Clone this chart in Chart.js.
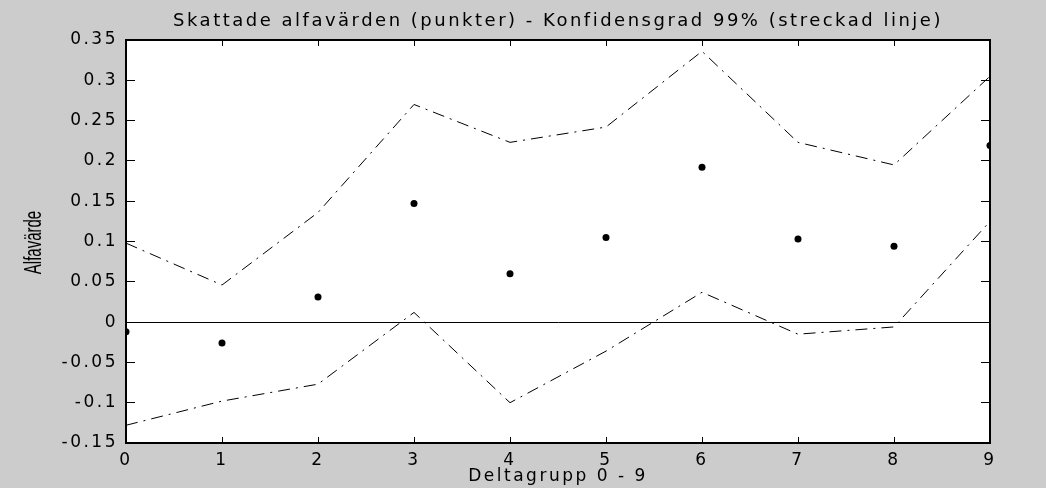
<!DOCTYPE html>
<html lang="sv">
<head>
<meta charset="utf-8">
<title>Skattade alfavärden</title>
<script src="https://cdn.jsdelivr.net/npm/chart.js@4/dist/chart.umd.min.js"></script>
<style>
    html, body { margin: 0; padding: 0; background: #cccccc; }
    #ruta { position: relative; width: 1046px; height: 488px; }
</style>
</head>
<body>
<div id="ruta"><canvas id="grafik"></canvas></div>
<script>
// Deltagrupper och skattade värden
const grupper = [0, 1, 2, 3, 4, 5, 6, 7, 8, 9];
const alfa = [-0.012, -0.026, 0.031, 0.147, 0.060, 0.105, 0.192, 0.103, 0.094, 0.219];
// Konfidensintervall 99 %
const ovreGrans = [0.098, 0.046, 0.136, 0.270, 0.223, 0.242, 0.336, 0.223, 0.195, 0.305];
const undreGrans = [-0.128, -0.098, -0.077, 0.012, -0.100, -0.036, 0.037, -0.015, -0.006, 0.125];
// Axlar
const yMin = -0.15, yMax = 0.35, yStep = 0.05;
const xMin = 0, xMax = 9;

const titel = 'Skattade alfavärden (punkter) - Konfidensgrad 99% (streckad linje)';
const xTitel = 'Deltagrupp 0 - 9';
const yTitel = 'Alfavärde';

const punkter = (ys) => grupper.map((g, i) => ({ x: g, y: ys[i] }));

// bredare text, som i MATLAB-figuren
const textSpacing = {
    id: 'textSpacing',
    beforeUpdate(chart) { chart.ctx.letterSpacing = '2.5px'; },
    beforeDraw(chart) { chart.ctx.letterSpacing = '2.5px'; }
};

// vit bakgrund i själva diagrammet
const vitYta = {
    id: 'vitYta',
    beforeDraw(chart) {
        const { ctx, chartArea: a } = chart;
        ctx.save();
        ctx.fillStyle = '#ffffff';
        ctx.fillRect(a.left, a.top, a.right - a.left, a.bottom - a.top);
        ctx.restore();
    }
};

// y-axelns rubrik, smal och hög
const yRubrik = {
    id: 'yRubrik',
    afterDraw(chart) {
        const ctx = chart.ctx;
        const mitt = (chart.chartArea.top + chart.chartArea.bottom) / 2;
        ctx.save();
        ctx.letterSpacing = '0px';
        ctx.translate(34, mitt + 1);
        ctx.rotate(-Math.PI / 2);
        ctx.scale(1, 1.6);
        ctx.font = '15px "Liberation Sans", Arial, sans-serif';
        ctx.fillStyle = '#000';
        ctx.textAlign = 'center';
        ctx.textBaseline = 'middle';
        ctx.fillText(yTitel, 0, 0);
        ctx.restore();
    }
};

const typsnitt = '"DejaVu Sans", sans-serif';
const streck = [12, 6, 2, 6];

const axelX = (pos, visaTal) => ({
    type: 'linear',
    position: pos,
    min: xMin,
    max: xMax,
    afterFit: (s) => { s.height = pos === 'bottom' ? 45 : 0; },
    ticks: {
        display: visaTal,
        stepSize: 1,
        padding: 13,
        color: '#000',
        font: { family: typsnitt, size: 17 }
    },
    grid: { display: true, drawOnChartArea: false, tickLength: -6, tickColor: '#000', tickWidth: 1 },
    border: { display: true, color: '#000', width: 2 },
    title: {
        display: visaTal,
        text: xTitel,
        color: '#000',
        font: { family: typsnitt, size: 17 },
        padding: { top: 0, bottom: 1 }
    }
});

const axelY = (pos, visaTal) => ({
    type: 'linear',
    position: pos,
    min: yMin,
    max: yMax,
    afterFit: (s) => { s.width = pos === 'left' ? 126 : 0; },
    ticks: {
        display: visaTal,
        stepSize: yStep,
        padding: 17,
        color: '#000',
        font: { family: typsnitt, size: 17 },
        callback: (v) => String(Number(v.toFixed(2)))
    },
    grid: {
        display: true,
        drawOnChartArea: pos === 'left',
        // bara nollinjen dras genom diagrammet
        color: (c) => (c.tick && Math.abs(c.tick.value) < 1e-9) ? '#000' : 'rgba(0,0,0,0)',
        lineWidth: 1,
        tickLength: -9,
        tickColor: '#000',
        tickWidth: 1
    },
    border: { display: true, color: '#000', width: 2 }
});

new Chart(document.getElementById('grafik'), {
    type: 'scatter',
    data: {
        datasets: [{
            label: 'Alfa',
            data: punkter(alfa),
            showLine: false,
            pointStyle: 'circle',
            pointRadius: 3.5,
            pointBackgroundColor: '#000',
            pointBorderWidth: 0
        }, {
            label: 'Övre gräns',
            data: punkter(ovreGrans),
            showLine: true,
            borderColor: '#000',
            borderWidth: 1,
            borderDash: streck,
            pointRadius: 0,
            tension: 0,
            fill: false
        }, {
            label: 'Undre gräns',
            data: punkter(undreGrans),
            showLine: true,
            borderColor: '#000',
            borderWidth: 1,
            borderDash: streck,
            pointRadius: 0,
            tension: 0,
            fill: false
        }]
    },
    options: {
        responsive: true,
        maintainAspectRatio: false,
        animation: false,
        layout: { padding: { left: 0, right: 56, top: 0, bottom: 0 } },
        plugins: {
            legend: { display: false },
            tooltip: { enabled: false },
            title: {
                display: true,
                text: titel,
                fullSize: false,
                color: '#000',
                font: { family: typsnitt, size: 18, weight: 'normal' },
                padding: { top: 11, bottom: 7.4 }
            }
        },
        scales: {
            x: axelX('bottom', true),
            x2: axelX('top', false),
            y: axelY('left', true),
            y2: axelY('right', false)
        }
    },
    plugins: [vitYta, textSpacing, yRubrik]
});
</script>
</body>
</html>
